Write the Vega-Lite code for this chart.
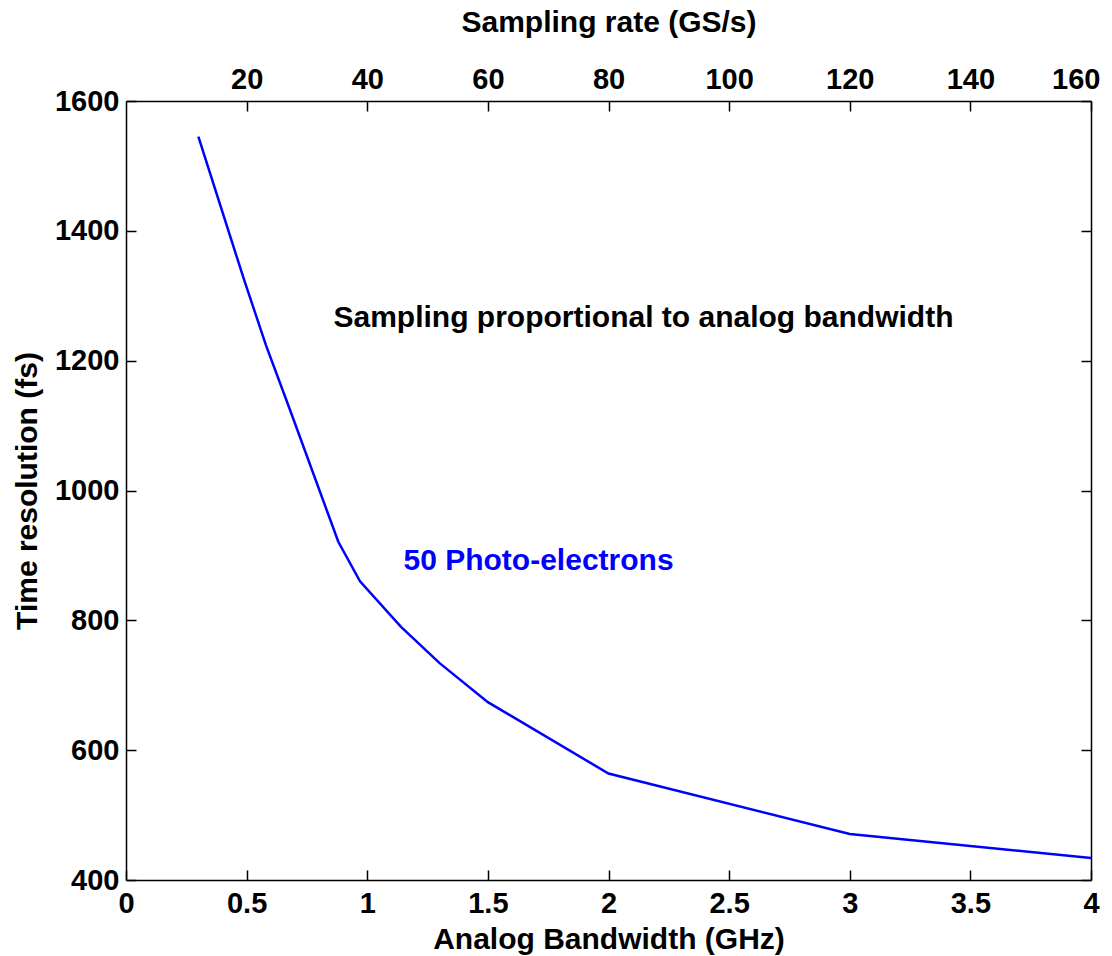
{
  "$schema": "https://vega.github.io/schema/vega-lite/v6.json",
  "width": 965,
  "height": 779,
  "autosize": "none",
  "padding": {"left": 126, "top": 101, "right": 21, "bottom": 76},
  "background": "white",
  "config": {
    "font": "Liberation Sans",
    "view": {"stroke": null},
    "axis": {
      "labelFont": "Liberation Sans",
      "labelFontWeight": "bold",
      "labelFontSize": 29,
      "labelColor": "#000",
      "titleFont": "Liberation Sans",
      "titleFontWeight": "bold",
      "titleFontSize": 30,
      "titleColor": "#000",
      "domainColor": "#000",
      "domainWidth": 1.5,
      "tickColor": "#000",
      "tickWidth": 1.5,
      "tickSize": -10,
      "grid": false,
      "labelFlush": false,
      "labelOverlap": false
    }
  },
  "data": {
    "values": [
      {"bandwidth": 0.30, "resolution": 1545},
      {"bandwidth": 0.49, "resolution": 1324},
      {"bandwidth": 0.58, "resolution": 1224},
      {"bandwidth": 0.68, "resolution": 1124},
      {"bandwidth": 0.88, "resolution": 921},
      {"bandwidth": 0.97, "resolution": 860},
      {"bandwidth": 1.14, "resolution": 790},
      {"bandwidth": 1.30, "resolution": 734},
      {"bandwidth": 1.50, "resolution": 674},
      {"bandwidth": 2.00, "resolution": 564},
      {"bandwidth": 3.00, "resolution": 471},
      {"bandwidth": 4.00, "resolution": 434}
    ]
  },
  "resolve": {"axis": {"x": "independent", "y": "independent"}},
  "layer": [
    {
      "mark": {"type": "line", "color": "#0000ff", "strokeWidth": 2.5},
      "encoding": {
        "x": {
          "field": "bandwidth", "type": "quantitative",
          "scale": {"domain": [0, 4], "nice": false, "zero": false},
          "axis": {"orient": "bottom", "title": "Analog Bandwidth (GHz)", "values": [0, 0.5, 1, 1.5, 2, 2.5, 3, 3.5, 4], "format": "~g", "labelPadding": 19, "titlePadding": 6}
        },
        "y": {
          "field": "resolution", "type": "quantitative",
          "scale": {"domain": [400, 1600], "nice": false, "zero": false},
          "axis": {"orient": "left", "title": "Time resolution (fs)", "values": [400, 600, 800, 1000, 1200, 1400, 1600], "format": "d", "labelPadding": 17, "titlePadding": 12}
        }
      }
    },
    {
      "mark": {"type": "line", "opacity": 0},
      "encoding": {
        "x": {
          "field": "bandwidth", "type": "quantitative",
          "axis": {"orient": "top", "title": "Sampling rate (GS/s)", "values": [0.5, 1, 1.5, 2, 2.5, 3, 3.5, 4], "labelExpr": "format(datum.value * 40, 'd')", "labelPadding": 17, "titlePadding": 28, "labelFlush": true, "labelFlushOffset": 9}
        },
        "y": {
          "field": "resolution", "type": "quantitative",
          "axis": {"orient": "right", "title": null, "labels": false, "values": [400, 600, 800, 1000, 1200, 1400, 1600]}
        }
      }
    },
    {
      "data": {"values": [{"note": "Sampling proportional to analog bandwidth"}]},
      "mark": {"type": "text", "font": "Liberation Sans", "fontWeight": "bold", "fontSize": 30, "color": "#000", "align": "center", "baseline": "middle"},
      "encoding": {
        "x": {"datum": 2.145, "type": "quantitative", "axis": null},
        "y": {"datum": 1266, "type": "quantitative", "axis": null},
        "text": {"field": "note"}
      }
    },
    {
      "data": {"values": [{"note": "50 Photo-electrons"}]},
      "mark": {"type": "text", "font": "Liberation Sans", "fontWeight": "bold", "fontSize": 30, "color": "#0000ff", "align": "center", "baseline": "middle"},
      "encoding": {
        "x": {"datum": 1.71, "type": "quantitative", "axis": null},
        "y": {"datum": 891, "type": "quantitative", "axis": null},
        "text": {"field": "note"}
      }
    }
  ]
}
